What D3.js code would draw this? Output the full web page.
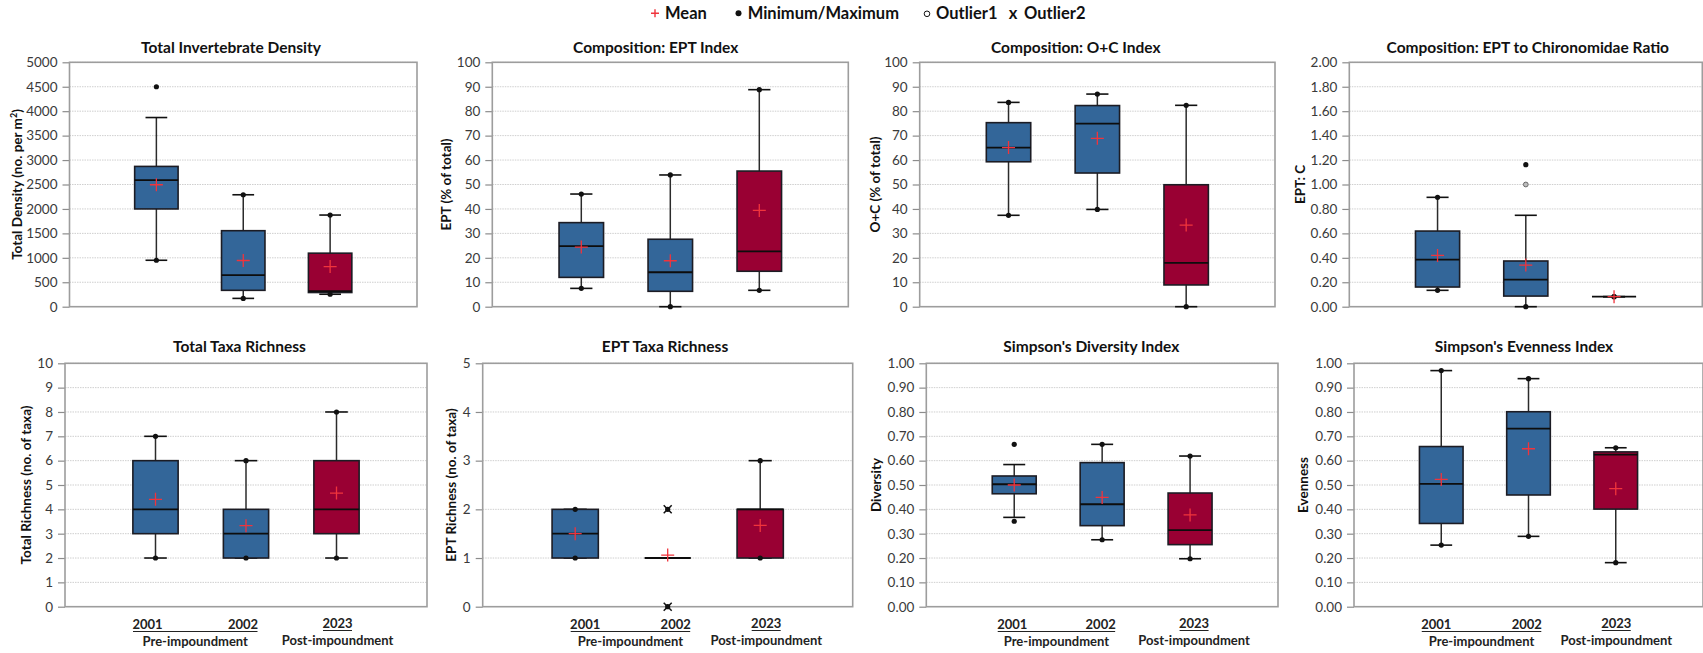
<!DOCTYPE html>
<html>
<head>
<meta charset="utf-8">
<script src="https://cdn.jsdelivr.net/npm/d3@7"></script>
<style>
  body { margin: 0; background: #ffffff; }
  svg { display: block; font-family: Lato, "Open Sans", "Liberation Sans", sans-serif; }
</style>
</head>
<body>
<svg id="chart" width="1703" height="653"></svg>
<script>
// ---- categories ----
const years = ["2001", "2002", "2023"];
const periodLabels = ["Pre-impoundment", "Post-impoundment"];

// ---- summary statistics per year: [whisker low, Q1, median, Q3, whisker high] ----
const densityBox  = [[950, 2000, 2590, 2870, 3870], [170, 335, 645, 1555, 2290], [255, 290, 320, 1095, 1875]];
const densityMean = [2495, 945, 820];
const densityMinMax = [[950, 4500], [170, 2290], [255, 1875]];

const eptBox  = [[7.5, 12.0, 24.8, 34.4, 46.1], [0, 6.3, 14.1, 27.6, 53.9], [6.7, 14.5, 22.6, 55.5, 88.8]];
const eptMean = [24.4, 18.8, 39.4];
const eptMinMax = [[7.5, 46.1], [0, 53.9], [6.7, 88.8]];

const ocBox  = [[37.4, 59.3, 65.1, 75.3, 83.6], [39.8, 54.7, 74.9, 82.3, 87.0], [0, 8.9, 17.9, 49.9, 82.4]];
const ocMean = [65.1, 68.9, 33.4];
const ocMinMax = [[37.4, 83.6], [39.8, 87.0], [0, 82.4]];

const ratioBox  = [[0.134, 0.161, 0.385, 0.619, 0.895], [0, 0.087, 0.221, 0.374, 0.748], [0.082, 0.082, 0.082, 0.082, 0.082]];
const ratioMean = [0.42, 0.341, 0.082];
const ratioMinMax = [[0.134, 0.895], [0, 1.162], [0.082, 0.082]];
const ratioOutlier1 = [[], [1.0], []];

const richBox  = [[2, 3, 4, 6, 7], [2, 2, 3, 4, 6], [2, 3, 4, 6, 8]];
const richMean = [4.41, 3.33, 4.67];
const richMinMax = [[2, 7], [2, 6], [2, 8]];

const eptRichBox  = [[1, 1, 1.5, 2, 2], [1, 1, 1, 1, 1], [1, 1, 2, 2, 3]];
const eptRichMean = [1.5, 1.06, 1.67];
const eptRichMinMax = [[1, 2], [0, 2], [1, 3]];
const eptRichOutlier2 = [[], [0, 2], []];

const divBox  = [[0.367, 0.464, 0.503, 0.537, 0.584], [0.275, 0.333, 0.421, 0.592, 0.667], [0.197, 0.255, 0.315, 0.467, 0.619]];
const divMean = [0.50, 0.449, 0.377];
const divMinMax = [[0.351, 0.667], [0.275, 0.667], [0.197, 0.619]];

const evenBox  = [[0.253, 0.342, 0.505, 0.658, 0.970], [0.289, 0.459, 0.732, 0.801, 0.937], [0.181, 0.401, 0.625, 0.636, 0.653]];
const evenMean = [0.523, 0.649, 0.485];
const evenMinMax = [[0.253, 0.970], [0.289, 0.937], [0.181, 0.653]];

// ---- tick labels ----
const densityTicks = [0, 500, 1000, 1500, 2000, 2500, 3000, 3500, 4000, 4500, 5000];
const percentTicks = [0, 10, 20, 30, 40, 50, 60, 70, 80, 90, 100];
const ratioTicks   = [0, 0.2, 0.4, 0.6, 0.8, 1.0, 1.2, 1.4, 1.6, 1.8, 2.0];
const richTicks    = [0, 1, 2, 3, 4, 5, 6, 7, 8, 9, 10];
const eptRichTicks = [0, 1, 2, 3, 4, 5];
const indexTicks   = [0, 0.1, 0.2, 0.3, 0.4, 0.5, 0.6, 0.7, 0.8, 0.9, 1.0];

// ---- legend entries ----
const legendItems = ["Mean", "Minimum/Maximum", "Outlier1", "Outlier2"];

// ---- panel layout ----
const rows = [
  { top: 62.3, bottom: 306.7, titleY: 53, xlabels: false },
  { top: 363.3, bottom: 606.7, titleY: 352, xlabels: true }
];
const intFmt = d3.format("d"), dec2 = d3.format(".2f");
const panels = [
  { title: "Total Invertebrate Density", ylab: [["Total Density (no. per m", 0], ["2", 1], [")", 0]],
    box: densityBox, mean: densityMean, ext: densityMinMax, ticks: densityTicks, fmt: intFmt,
    row: 0, l: 69.5, r: 417, tx: 231, lx: 17 },
  { title: "Composition: EPT Index", ylab: [["EPT (% of total)", 0]],
    box: eptBox, mean: eptMean, ext: eptMinMax, ticks: percentTicks, fmt: intFmt,
    row: 0, l: 492.3, r: 848.3, tx: 655.7, lx: 446.7 },
  { title: "Composition: O+C Index", ylab: [["O+C (% of total)", 0]],
    box: ocBox, mean: ocMean, ext: ocMinMax, ticks: percentTicks, fmt: intFmt,
    row: 0, l: 919.7, r: 1275, tx: 1075.8, lx: 875 },
  { title: "Composition: EPT to Chironomidae Ratio", ylab: [["EPT: C", 0]],
    box: ratioBox, mean: ratioMean, ext: ratioMinMax, out1: ratioOutlier1, ticks: ratioTicks, fmt: dec2,
    row: 0, l: 1349.3, r: 1702.3, tx: 1527.8, lx: 1300.7 },
  { title: "Total Taxa Richness", ylab: [["Total Richness  (no. of taxa)", 0]],
    box: richBox, mean: richMean, ext: richMinMax, ticks: richTicks, fmt: intFmt,
    row: 1, l: 65, r: 427, tx: 239.5, lx: 26.7, ldx: [-8, -3, 1] },
  { title: "EPT Taxa Richness", ylab: [["EPT Richness  (no. of taxa)", 0]],
    box: eptRichBox, mean: eptRichMean, ext: eptRichMinMax, out2: eptRichOutlier2, ticks: eptRichTicks, fmt: intFmt,
    row: 1, l: 482.7, r: 852.7, tx: 665, lx: 451.7, ldx: [10, 8, 6] },
  { title: "Simpson's Diversity Index", ylab: [["Diversity", 0]],
    box: divBox, mean: divMean, ext: divMinMax, ticks: indexTicks, fmt: dec2,
    row: 1, l: 926.3, r: 1278, tx: 1091.3, lx: 876.7, ldx: [-2, -1.5, 4] },
  { title: "Simpson's Evenness Index", ylab: [["Evenness", 0]],
    box: evenBox, mean: evenMean, ext: evenMinMax, ticks: indexTicks, fmt: dec2,
    row: 1, l: 1354, r: 1703, tx: 1524, lx: 1303.3, ldx: [-5, -1.7, 0.5] }
];

const fills = { "2001": "#336699", "2002": "#336699", "2023": "#990033" };
const svg = d3.select("#chart");

panels.forEach(p => {
  const row = rows[p.row];
  const g = svg.append("g");
  const x = d3.scaleBand().domain(years).range([p.l, p.r]).paddingInner(0.5).paddingOuter(0.75);
  const y = d3.scaleLinear().domain(d3.extent(p.ticks)).range([row.bottom, row.top]);
  const bw = x.bandwidth();
  const capW = x.step() * 0.25;

  // grid lines
  g.append("g").selectAll("line").data(p.ticks.slice(1)).join("line")
    .attr("x1", p.l).attr("x2", p.r)
    .attr("y1", d => y(d)).attr("y2", d => y(d))
    .attr("stroke", "#cfcfcf").attr("stroke-width", 1).attr("stroke-dasharray", "1.5,1");

  // y axis
  const axis = g.append("g").attr("transform", `translate(${p.l},0)`)
    .call(d3.axisLeft(y).tickValues(p.ticks).tickFormat(p.fmt).tickSize(7).tickPadding(5).tickSizeOuter(0));
  axis.select(".domain").remove();
  axis.selectAll(".tick line").attr("stroke", "#8c8c8c").attr("stroke-width", 1.2);
  axis.selectAll(".tick text").attr("fill", "#3a3a3a").style("font-size", "13.5px")
    .style("font-family", "Lato, sans-serif");

  // plot frame
  g.append("rect").attr("x", p.l).attr("y", row.top)
    .attr("width", p.r - p.l).attr("height", row.bottom - row.top)
    .attr("fill", "none").attr("stroke", "#9d9d9d").attr("stroke-width", 1.6);

  // title
  g.append("text").attr("x", p.tx).attr("y", row.titleY).attr("text-anchor", "middle")
    .style("font-weight", 700).style("font-size", "15.5px").attr("fill", "#111").text(p.title);

  // y axis label
  const yl = g.append("text")
    .attr("transform", `translate(${p.lx},${(row.top + row.bottom) / 2}) rotate(-90)`)
    .attr("text-anchor", "middle").attr("dy", "0.35em")
    .style("font-weight", 700).style("font-size", "13.5px").attr("fill", "#111");
  p.ylab.forEach(([t, sup]) => {
    const ts = yl.append("tspan").text(t);
    if (sup) ts.attr("baseline-shift", "super").style("font-size", "9px");
  });

  const data = years.map((yr, i) => ({
    yr, b: p.box[i], mean: p.mean[i], ext: p.ext[i],
    o1: p.out1 ? p.out1[i] : [], o2: p.out2 ? p.out2[i] : []
  }));
  const cx = d => x(d.yr) + bw / 2;

  // whiskers
  g.append("g").selectAll("line").data(data).join("line")
    .attr("x1", cx).attr("x2", cx)
    .attr("y1", d => y(d.b[0])).attr("y2", d => y(d.b[4]))
    .attr("stroke", "#2b2b2b").attr("stroke-width", 1.5);
  // caps
  const caps = data.flatMap(d => [[d, d.b[0]], [d, d.b[4]]]);
  g.append("g").selectAll("line").data(caps).join("line")
    .attr("x1", ([d]) => cx(d) - capW / 2).attr("x2", ([d]) => cx(d) + capW / 2)
    .attr("y1", ([, v]) => y(v)).attr("y2", ([, v]) => y(v))
    .attr("stroke", "#111").attr("stroke-width", 1.6);

  // boxes
  g.append("g").selectAll("rect").data(data).join("rect")
    .attr("x", d => x(d.yr)).attr("width", bw)
    .attr("y", d => y(d.b[3])).attr("height", d => y(d.b[1]) - y(d.b[3]))
    .attr("fill", d => fills[d.yr]).attr("stroke", "#1c1c24").attr("stroke-width", 1.6);
  // medians
  g.append("g").selectAll("line").data(data).join("line")
    .attr("x1", d => x(d.yr)).attr("x2", d => x(d.yr) + bw)
    .attr("y1", d => y(d.b[2])).attr("y2", d => y(d.b[2]))
    .attr("stroke", "#0d0d0d").attr("stroke-width", 1.8);

  // minimum / maximum markers
  const ext = data.flatMap(d => d.ext.map(v => [d, v]));
  g.append("g").selectAll("circle").data(ext).join("circle")
    .attr("cx", ([d]) => cx(d)).attr("cy", ([, v]) => y(v)).attr("r", 2.6).attr("fill", "#111");

  // outlier 1 (open circle)
  const o1 = data.flatMap(d => d.o1.map(v => [d, v]));
  g.append("g").selectAll("circle").data(o1).join("circle")
    .attr("cx", ([d]) => cx(d)).attr("cy", ([, v]) => y(v)).attr("r", 2.4)
    .attr("fill", "#bdbdbd").attr("stroke", "#6a6a6a").attr("stroke-width", 1);

  // outlier 2 (x)
  const o2 = data.flatMap(d => d.o2.map(v => [d, v]));
  g.append("g").selectAll("path").data(o2).join("path")
    .attr("d", ([d, v]) => {
      const px = cx(d), py = y(v), s = 4;
      return `M${px - s},${py - s}L${px + s},${py + s}M${px - s},${py + s}L${px + s},${py - s}`;
    })
    .attr("stroke", "#111").attr("stroke-width", 1.5);

  // means
  g.append("g").selectAll("path").data(data).join("path")
    .attr("d", d => {
      const px = cx(d), py = y(d.mean), s = 6.5;
      return `M${px - s},${py}H${px + s}M${px},${py - s}V${py + s}`;
    })
    .attr("stroke", "#f0343c").attr("stroke-width", 1.3);

  // category labels
  if (row.xlabels) {
    const ly = 629;
    const lx = years.map((yr, i) => x(yr) + bw / 2 + p.ldx[i]);
    const lt = g.append("g").style("font-weight", 700).style("font-size", "13px").attr("fill", "#222");
    years.forEach((yr, i) => {
      lt.append("text").attr("x", lx[i]).attr("y", i === 2 ? ly - 1 : ly)
        .attr("text-anchor", "middle").text(yr);
    });
    const u0 = lx[0] - 14.5, u1 = lx[1] + 14.5;
    lt.append("line").attr("x1", u0).attr("x2", u1).attr("y1", ly + 2.5).attr("y2", ly + 2.5)
      .attr("stroke", "#222").attr("stroke-width", 1);
    lt.append("line").attr("x1", lx[2] - 14.5).attr("x2", lx[2] + 14.5)
      .attr("y1", ly + 1.5).attr("y2", ly + 1.5).attr("stroke", "#222").attr("stroke-width", 1);
    lt.append("text").attr("x", (u0 + u1) / 2).attr("y", ly + 17).attr("text-anchor", "middle").text(periodLabels[0]);
    lt.append("text").attr("x", lx[2]).attr("y", ly + 16).attr("text-anchor", "middle").text(periodLabels[1]);
  }
});

// ---- legend ----
const lg = svg.append("g").style("font-weight", 700).style("font-size", "16.5px").attr("fill", "#111");
const legY = 19, legMid = 13.3;
lg.append("path").attr("d", `M651,${legMid}H659M655,${legMid - 4}V${legMid + 4}`)
  .attr("stroke", "#f0343c").attr("stroke-width", 1.4);
lg.append("text").attr("x", 665).attr("y", legY).text(legendItems[0]);
lg.append("circle").attr("cx", 738.5).attr("cy", legMid).attr("r", 3).attr("fill", "#111");
lg.append("text").attr("x", 747.7).attr("y", legY).text(legendItems[1]);
lg.append("circle").attr("cx", 927).attr("cy", legMid + 0.5).attr("r", 2.8)
  .attr("fill", "none").attr("stroke", "#111").attr("stroke-width", 1);
lg.append("text").attr("x", 936).attr("y", legY).text(legendItems[2]);
lg.append("text").attr("x", 1013).attr("y", legY).attr("text-anchor", "middle").text("x");
lg.append("text").attr("x", 1024).attr("y", legY).text(legendItems[3]);
</script>
</body>
</html>
